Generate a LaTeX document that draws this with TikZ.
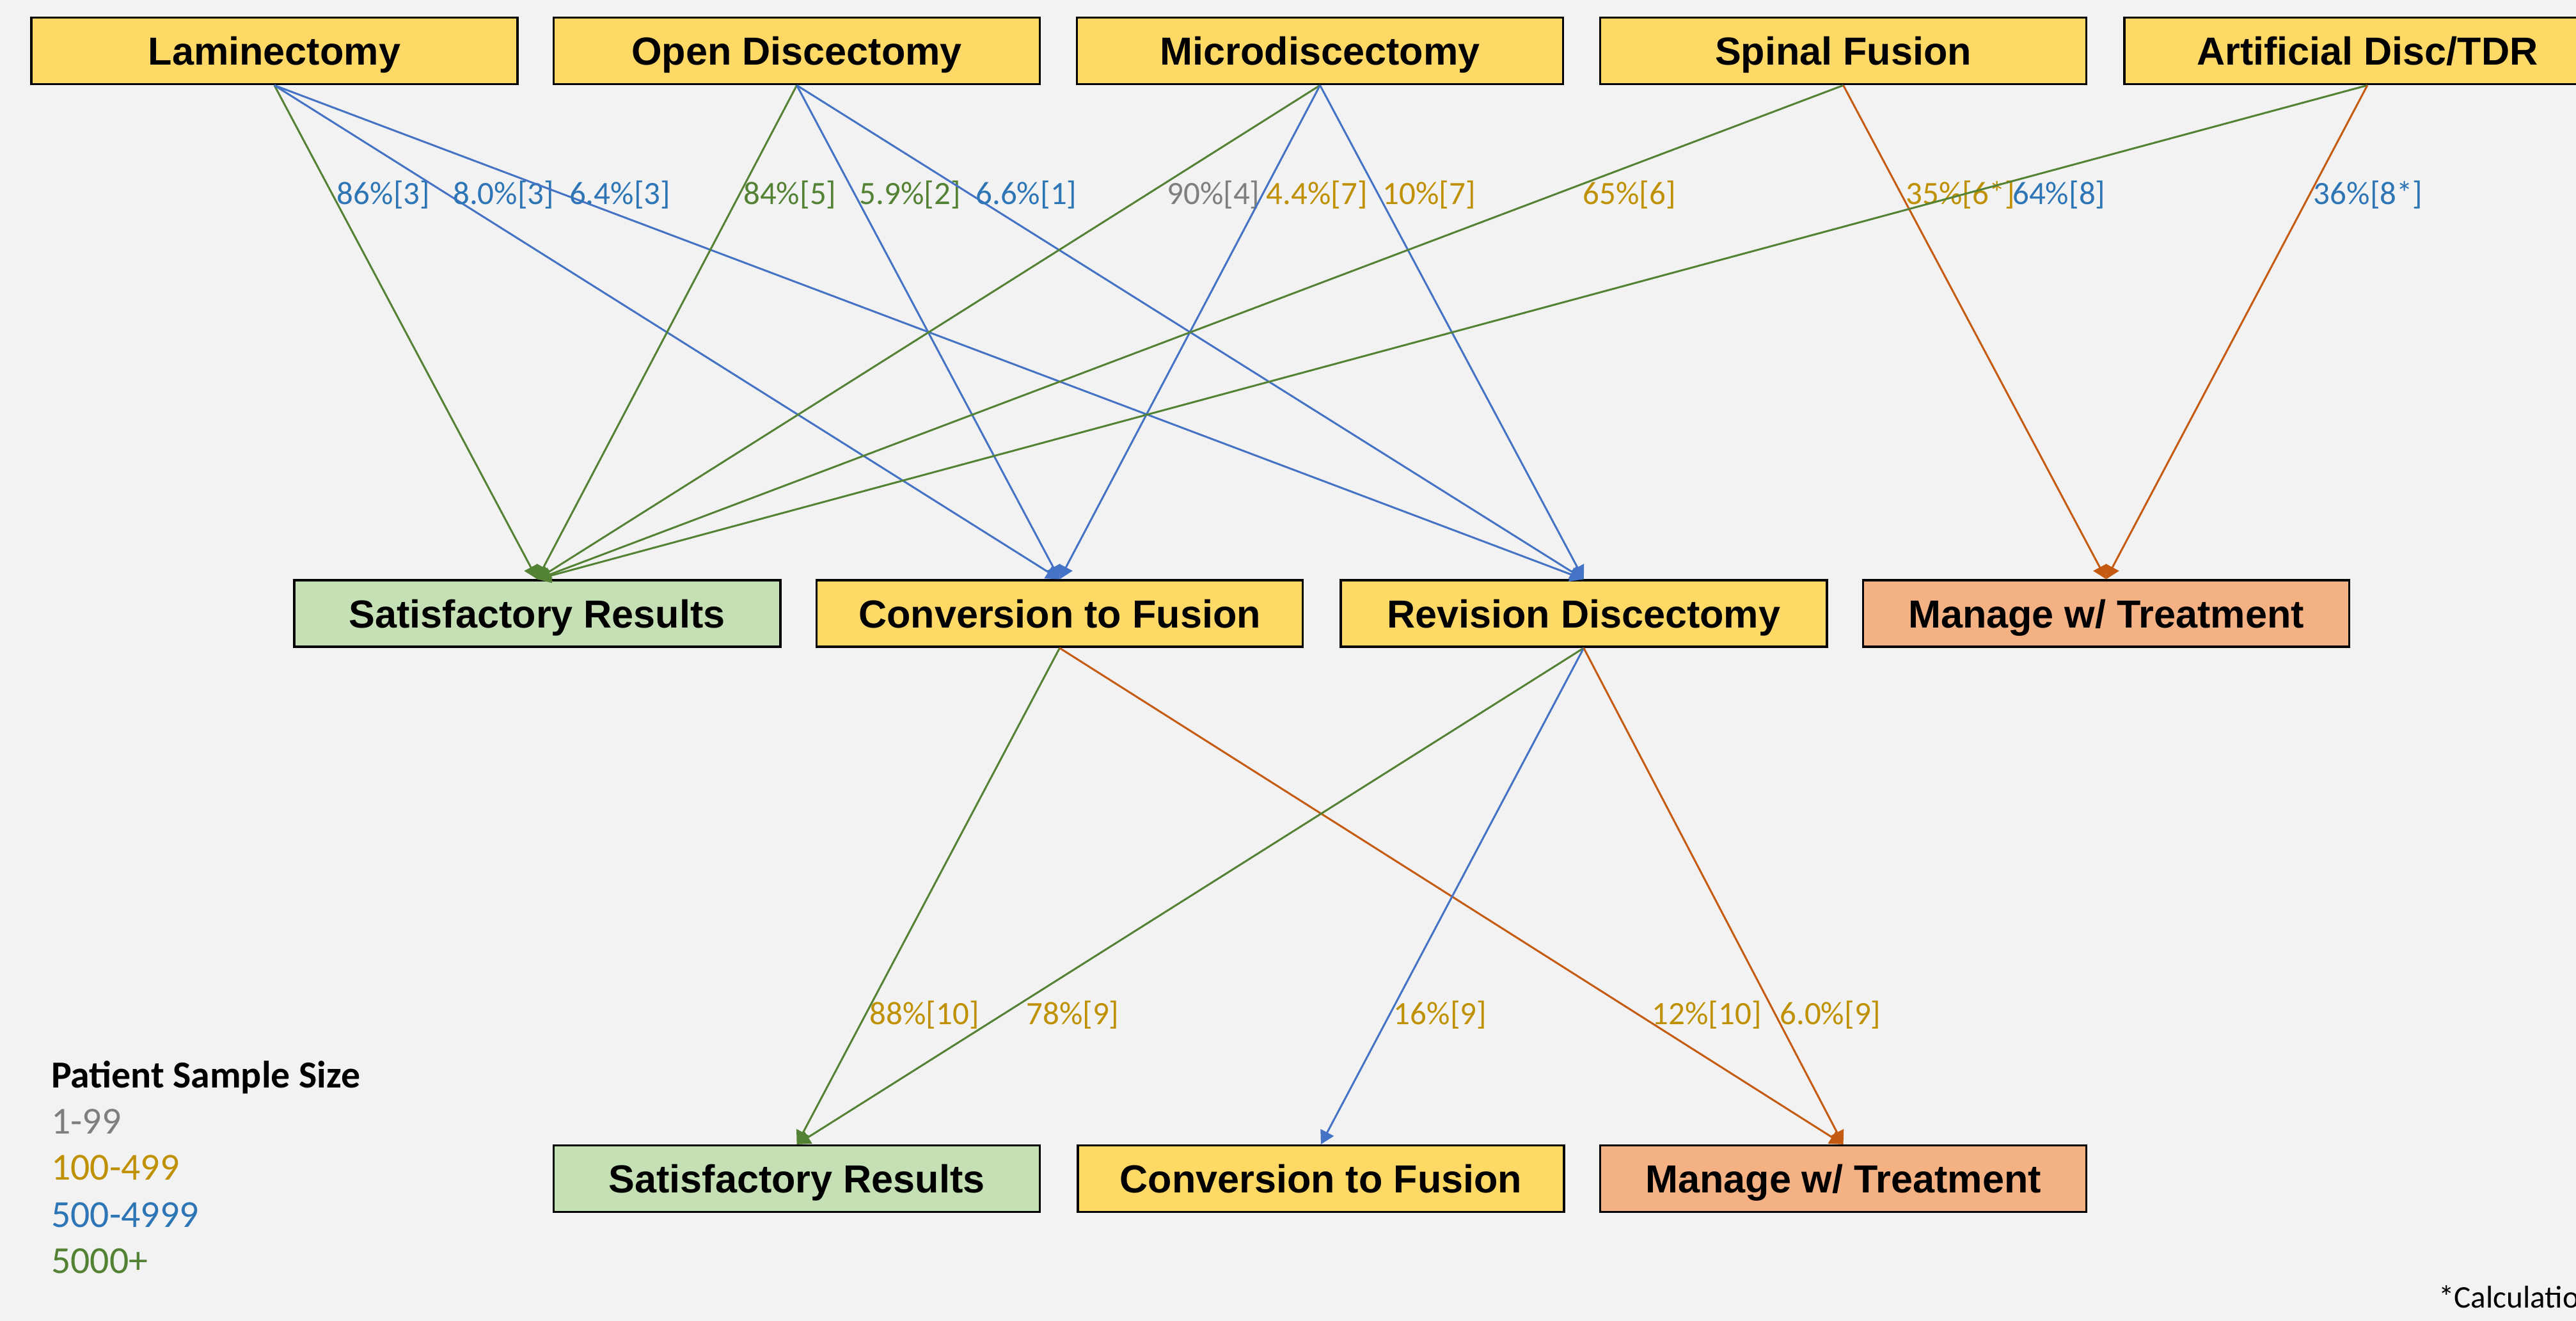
\documentclass[tikz,border=0pt]{standalone}
\usepackage{fontspec}
\setmainfont{Carlito}
\newfontfamily\boxfont{Liberation Sans}
\usetikzlibrary{arrows.meta}

\definecolor{bggray}{HTML}{F2F2F2}
\definecolor{boxyellow}{HTML}{FFD966}
\definecolor{boxgreen}{HTML}{C5E0B4}
\definecolor{boxorange}{HTML}{F4B183}
\definecolor{lngreen}{HTML}{548235}
\definecolor{lnblue}{HTML}{4472C4}
\definecolor{lnorange}{HTML}{C55A11}
\definecolor{txblue}{HTML}{2E75B6}
\definecolor{txgold}{HTML}{BF9000}
\definecolor{txgray}{HTML}{7F7F7F}

\begin{document}
\begin{tikzpicture}[x=0.02568cm,y=-0.02568cm,
	box/.style={draw=black,line width=1pt,minimum width=7.6cm,minimum height=1.04cm,inner sep=0pt,
		text height=12.5pt,text depth=0pt,
		font={\boxfont\bfseries\fontsize{17.4}{20}\selectfont}},
	link/.style={line width=0.85pt,-{Triangle[width=6.5pt,length=6pt]}},
	gline/.style={link,draw=lngreen},
	bline/.style={link,draw=lnblue},
	oline/.style={link,draw=lnorange},
	lbl/.style={font=\fontsize{14.5}{17}\selectfont,anchor=west,inner sep=1.5pt},
	legend/.style={font=\fontsize{17}{20}\selectfont,anchor=base west,inner sep=0pt}]

	\useasboundingbox (0,0) rectangle (1568,804);
	\clip (0,0) rectangle (1568,804);
	\fill[bggray] (0,0) rectangle (1568,804);

	% procedures
	\node[box,fill=boxyellow] (lam) at (167,31) {Laminectomy};
	\node[box,fill=boxyellow] (open) at (485,31) {Open Discectomy};
	\node[box,fill=boxyellow] (micro) at (803.5,31) {Microdiscectomy};
	\node[box,fill=boxyellow] (fus) at (1122,31) {Spinal Fusion};
	\node[box,fill=boxyellow] (tdr) at (1441,31) {Artificial Disc/TDR};

	% first outcomes
	\node[box,fill=boxgreen] (sat) at (327,373.5) {Satisfactory Results};
	\node[box,fill=boxyellow] (conv) at (645,373.5) {Conversion to Fusion};
	\node[box,fill=boxyellow] (rev) at (964,373.5) {Revision Discectomy};
	\node[box,fill=boxorange] (mng) at (1282,373.5) {Manage w/ Treatment};

	% second outcomes
	\node[box,fill=boxgreen] (sat2) at (485,717.5) {Satisfactory Results};
	\node[box,fill=boxyellow] (conv2) at (804,717.5) {Conversion to Fusion};
	\node[box,fill=boxorange] (mng2) at (1122,717.5) {Manage w/ Treatment};

	\draw[gline] (lam.south) -- (sat.north) node[lbl,pos=.222,text=txblue] {86\%[3]};
	\draw[bline] (lam.south) -- (conv.north) node[lbl,pos=.222,text=txblue] {8.0\%[3]};
	\draw[bline] (lam.south) -- (rev.north) node[lbl,pos=.222,text=txblue] {6.4\%[3]};

	\draw[gline] (open.south) -- (sat.north) node[lbl,pos=.222,text=lngreen] {84\%[5]};
	\draw[bline] (open.south) -- (conv.north) node[lbl,pos=.222,text=lngreen] {5.9\%[2]};
	\draw[bline] (open.south) -- (rev.north) node[lbl,pos=.222,text=txblue] {6.6\%[1]};

	\draw[gline] (micro.south) -- (sat.north) node[lbl,pos=.222,xshift=7.3pt,text=txgray] {90\%[4]};
	\draw[bline] (micro.south) -- (conv.north) node[lbl,pos=.222,text=txgold] {4.4\%[7]};
	\draw[bline] (micro.south) -- (rev.north) node[lbl,pos=.222,text=txgold] {10\%[7]};

	\draw[gline] (fus.south) -- (sat.north) node[lbl,pos=.222,xshift=11.3pt,text=txgold] {65\%[6]};
	\draw[oline] (fus.south) -- (mng.north) node[lbl,pos=.222,text=txgold] {35\%[6*]};

	\draw[gline] (tdr.south) -- (sat.north) node[lbl,pos=.222,xshift=21pt,text=txblue] {64\%[8]};
	\draw[oline] (tdr.south) -- (mng.north) node[lbl,pos=.222,text=txblue] {36\%[8*]};

	\draw[gline] (conv.south) -- (sat2.north) node[lbl,pos=.739,text=txgold] {88\%[10]};
	\draw[oline] (conv.south) -- (mng2.north) node[lbl,pos=.739,xshift=4pt,text=txgold] {12\%[10]};
	\draw[gline] (rev.south) -- (sat2.north) node[lbl,pos=.739,xshift=8.8pt,text=txgold] {78\%[9]};
	\draw[bline] (rev.south) -- (conv2.north) node[lbl,pos=.739,text=txgold] {16\%[9]};
	\draw[oline] (rev.south) -- (mng2.north) node[lbl,pos=.739,text=txgold] {6.0\%[9]};

	% legend
	\node[legend,font=\bfseries\fontsize{17}{20}\selectfont] (key) at (31,662) {Patient Sample Size};
	\node[legend,text=txgray] (key1) at (31,690) {1-99};
	\node[legend,text=txgold] (key2) at (31,718) {100-499};
	\node[legend,text=txblue] (key3) at (31,747) {500-4999};
	\node[legend,text=lngreen] (key4) at (31,775) {5000+};

	\node[anchor=base west,inner sep=0pt,font=\fontsize{14}{17}\selectfont] (note) at (1484,796) {*Calculation};
\end{tikzpicture}
\end{document}
